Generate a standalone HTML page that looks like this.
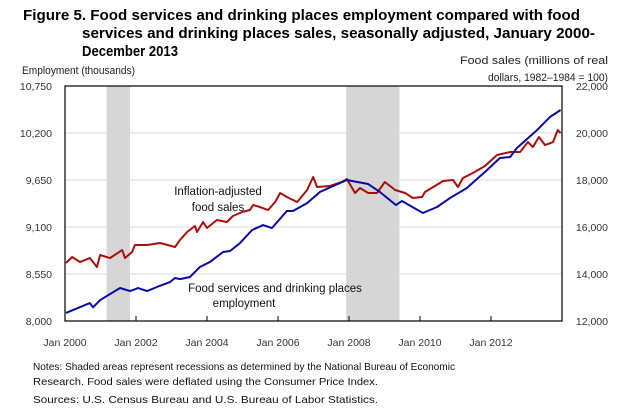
<!DOCTYPE html>
<html><head><meta charset="utf-8"><style>
body{margin:0;background:#fff;}
svg{display:block;font-family:"Liberation Sans",sans-serif;}
</style></head><body>
<svg id="chart" width="625" height="413" viewBox="0 0 625 413">
<g font-weight="bold" font-size="14.5" fill="#000">
<text x="23" y="20" textLength="557" lengthAdjust="spacingAndGlyphs">Figure 5. Food services and drinking places employment compared with food</text>
<text x="82" y="38" textLength="513" lengthAdjust="spacingAndGlyphs">services and drinking places sales, seasonally adjusted, January 2000-</text>
<text x="82" y="56" textLength="96" lengthAdjust="spacingAndGlyphs">December 2013</text>
</g>
<text x="22" y="74" font-size="11" fill="#222" textLength="113" lengthAdjust="spacingAndGlyphs">Employment (thousands)</text>
<text x="608" y="64" font-size="11" fill="#222" text-anchor="end" textLength="148" lengthAdjust="spacingAndGlyphs">Food sales (millions of real</text>
<text x="608" y="81" font-size="11" fill="#222" text-anchor="end" textLength="120" lengthAdjust="spacingAndGlyphs">dollars, 1982–1984 = 100)</text>
<g id="recessions"></g>
<g id="grid"></g>
<g id="series"></g>
<rect x="65" y="86" width="497" height="235" fill="none" stroke="#000" stroke-width="1.2"/>
<g id="ticks"></g>
<text x="218" y="195" font-size="11.5" fill="#111" text-anchor="middle">Inflation-adjusted</text>
<text x="218" y="211" font-size="11.5" fill="#111" text-anchor="middle">food sales</text>
<text x="275" y="292" font-size="11.5" fill="#111" text-anchor="middle">Food services and drinking  places</text>
<text x="244" y="307" font-size="11.5" fill="#111" text-anchor="middle">employment</text>
<g font-size="10.5" fill="#111">
<text x="33" y="370" textLength="422" lengthAdjust="spacingAndGlyphs">Notes: Shaded areas represent recessions as determined by the National Bureau of Economic</text>
<text x="33" y="385" textLength="345" lengthAdjust="spacingAndGlyphs">Research. Food sales were deflated using the Consumer Price Index.</text>
<text x="33" y="403" textLength="345" lengthAdjust="spacingAndGlyphs">Sources: U.S. Census Bureau and U.S. Bureau of Labor Statistics.</text>
</g>
</svg>
<script>
const leftTicks=[8000,8550,9100,9650,10200,10750];
const leftTickLabels=["8,000","8,550","9,100","9,650","10,200","10,750"];
const rightTickLabels=["12,000","14,000","16,000","18,000","20,000","22,000"];
const xTickYears=[2000,2002,2004,2006,2008,2010,2012];
const xTickLabels=["Jan 2000","Jan 2002","Jan 2004","Jan 2006","Jan 2008","Jan 2010","Jan 2012"];
const recessionStarts=[2001.17,2007.92];
const recessionEnds=[2001.83,2009.42];
const empDates=[2000.03,2000.23,2000.70,2000.79,2000.99,2001.55,2001.83,2002.06,2002.31,2002.59,2002.96,2003.10,2003.24,2003.52,2003.80,2004.08,2004.45,2004.65,2004.93,2005.27,2005.58,2005.83,2006.25,2006.42,2006.82,2007.18,2007.94,2008.54,2008.87,2009.32,2009.49,2010.08,2010.48,2010.85,2011.32,2011.89,2012.25,2012.54,2012.73,2013.30,2013.66,2013.96];
const empValues=[8094,8129,8210,8160,8245,8386,8351,8386,8350,8398,8456,8503,8490,8515,8632,8690,8807,8819,8912,9065,9123,9088,9287,9287,9380,9510,9650,9603,9510,9357,9404,9264,9334,9440,9556,9767,9907,9919,10024,10235,10387,10469];
const salesDates=[2000.03,2000.2,2000.42,2000.70,2000.90,2000.99,2001.27,2001.61,2001.69,2001.89,2001.97,2002.31,2002.68,2003.10,2003.24,2003.44,2003.66,2003.72,2003.89,2004.0,2004.28,2004.56,2004.73,2004.99,2005.21,2005.30,2005.49,2005.72,2005.92,2006.06,2006.25,2006.54,2006.82,2006.99,2007.10,2007.46,2007.80,2007.94,2008.17,2008.31,2008.54,2008.79,2009.01,2009.30,2009.58,2009.80,2010.06,2010.14,2010.42,2010.65,2010.93,2011.07,2011.21,2011.49,2011.83,2012.17,2012.54,2012.82,2013.04,2013.18,2013.35,2013.52,2013.75,2013.88,2013.96];
const salesValues=[14468,14723,14510,14680,14298,14808,14680,15020,14680,14936,15234,15234,15319,15149,15447,15787,16042,15787,16212,15957,16298,16212,16468,16638,16723,16936,16851,16723,17064,17447,17277,17064,17574,18127,17702,17745,17915,18042,17447,17660,17447,17447,17915,17574,17447,17234,17277,17490,17745,17957,18000,17702,18085,18298,18595,19063,19191,19191,19616,19403,19829,19489,19616,20127,20000];

const NS="http://www.w3.org/2000/svg";
const X0=65,X1=562,Y0=321,Y1=86;
const xs=t=>X0+(t-2000)/14*(X1-X0);
const yl=v=>Y0-(v-8000)/2750*(Y0-Y1);
const yr=v=>Y0-(v-12000)/10000*(Y0-Y1);
function mk(tag,attrs,parent){const e=document.createElementNS(NS,tag);for(const k in attrs)e.setAttribute(k,attrs[k]);parent.appendChild(e);return e;}
const rec=document.getElementById('recessions');
recessionStarts.forEach((s,i)=>{
 const r=mk('rect',{x:xs(s),y:Y1,width:xs(recessionEnds[i])-xs(s),height:Y0-Y1,fill:'#d6d6d6'},rec);
 
 
});
const grid=document.getElementById('grid');
const ticks=document.getElementById('ticks');
leftTicks.forEach((v,i)=>{
 const y=yl(v);
 if(i>0&&i<leftTicks.length-1){
  const g=mk('line',{x1:X0,x2:X1,y1:y,y2:y,stroke:'#d9d9d9','stroke-width':1},grid);
  
  
 }
 const t=mk('text',{x:52,y:y+4,'font-size':10.5,'text-anchor':'end',fill:'#333'},ticks);
 t.textContent=leftTickLabels[i];
 
 
 const t2=mk('text',{x:608,y:y+4,'font-size':10.5,'text-anchor':'end',fill:'#333'},ticks);
 t2.textContent=rightTickLabels[i];
 
 
});
xTickYears.forEach((yv,i)=>{
 const x=xs(yv);
 const l=mk('line',{x1:x,x2:x,y1:Y0,y2:Y0-5,stroke:'#000'},ticks);
 
 
 const t=mk('text',{x:x,y:346,'font-size':10.5,'text-anchor':'middle',fill:'#333'},ticks);
 t.textContent=xTickLabels[i];
 
 
});
const ser=document.getElementById('series');
const p1=mk('polyline',{points:salesDates.map((d,i)=>xs(d)+','+yr(salesValues[i])).join(' '),fill:'none',stroke:'#a50f0f','stroke-width':2,'stroke-linejoin':'round'},ser);


const p2=mk('polyline',{points:empDates.map((d,i)=>xs(d)+','+yl(empValues[i])).join(' '),fill:'none',stroke:'#0a0aa0','stroke-width':2,'stroke-linejoin':'round'},ser);


</script>
</body></html>
